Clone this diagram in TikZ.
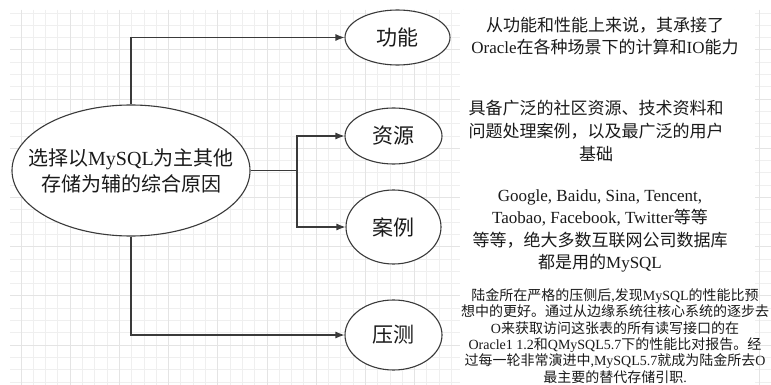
\documentclass[tikz,border=0pt]{standalone}
\usepackage{fontspec}
\setmainfont{Liberation Serif}
\newfontfamily\cjk{Noto Sans CJK SC}
\usetikzlibrary{arrows.meta,shapes.geometric}
\XeTeXinterchartokenstate=1
\newXeTeXintercharclass\CJKcls
\newcount\cjkc
\def\setcjkrange#1#2{\cjkc=#1\relax\loop\XeTeXcharclass\cjkc=\CJKcls\ifnum\cjkc<#2\advance\cjkc by 1\repeat}
\setcjkrange{"4E00}{"9FFF}
\setcjkrange{"3000}{"303F}
\setcjkrange{"FF00}{"FFEF}
\XeTeXinterchartoks 0 \CJKcls={\begingroup\cjk}
\XeTeXinterchartoks 4095 \CJKcls={\begingroup\cjk}
\XeTeXinterchartoks \CJKcls 0={\endgroup}
\XeTeXinterchartoks \CJKcls 4095={\endgroup}
\definecolor{linec}{HTML}{3A3A3A}
\definecolor{txtc}{HTML}{1A1A1A}
\definecolor{gridminor}{HTML}{EFEFEF}
\definecolor{gridmajor}{HTML}{E4E4E4}
\tikzset{
  oval/.style={ellipse, draw=linec, line width=1.1pt, fill=white, inner sep=0pt, text=txtc},
  conn/.style={draw=linec, line width=1.1pt},
  arr/.style={conn, -{Latex[length=9pt,width=7pt]}},
  desc/.style={align=center, text=txtc, inner sep=0pt},
}
\begin{document}
\begin{tikzpicture}[x=1pt,y=-1pt]
\useasboundingbox (0,0) rectangle (771,385);
\fill[white] (0,0) rectangle (771,385);
% grid
\begin{scope}
\clip (10,10) rectangle (771,385);
\foreach \i in {0,...,62} {
  \draw[gridminor, line width=0.9pt] ({8.7+12.3*\i},10) -- ({8.7+12.3*\i},385);
}
\foreach \j in {0,...,30} {
  \draw[gridminor, line width=0.9pt] (10,{13+12.3*\j}) -- (771,{13+12.3*\j});
}
\foreach \i in {0,...,15} {
  \draw[gridmajor, line width=1pt] ({21+49.2*\i},10) -- ({21+49.2*\i},385);
}
\foreach \j in {0,...,7} {
  \draw[gridmajor, line width=1pt] (10,{49.9+49.2*\j}) -- (771,{49.9+49.2*\j});
}
\end{scope}
\fill[white] (460,10) rectangle (755,385);

% main ellipse
\node[oval, minimum width=238pt, minimum height=131pt,
  label={[desc, font=\fontsize{20}{26}\selectfont]center:{选择以MySQL为主其他\\存储为辅的综合原因}}]
  (main) at (131,170.5) {};

% branch ellipses
\node[oval, minimum width=105pt, minimum height=55pt, font=\fontsize{21}{24}\selectfont] (f1) at (397.5,37.5) {功能};
\node[oval, minimum width=97pt, minimum height=56pt, font=\fontsize{21}{24}\selectfont] (f2) at (393.5,136) {资源};
\node[oval, minimum width=95pt, minimum height=74pt, font=\fontsize{21}{24}\selectfont] (f3) at (393.5,227) {案例};
\node[oval, minimum width=97pt, minimum height=70pt, font=\fontsize{21}{24}\selectfont] (f4) at (393.5,335) {压测};

% connectors
\coordinate (j) at (297,170.5);
\draw[arr] (main.north) |- (f1.west);
\draw[conn] (main.east) -- (j);
\draw[arr] (j) |- (f2.west);
\draw[arr] (j) |- (f3.west);
\draw[arr] (main.south) |- (f4.west);

% descriptions
\node[desc, font=\fontsize{17}{22}\selectfont] (t1) at (605,36)
  {从功能和性能上来说，其承接了\\Oracle在各种场景下的计算和IO能力};
\node[desc, font=\fontsize{17}{23}\selectfont] (t2) at (596,131)
  {具备广泛的社区资源、技术资料和\\问题处理案例，以及最广泛的用户\\基础};
\node[desc, font=\fontsize{17}{22.5}\selectfont] (t3) at (600,231)
  {Google, Baidu, Sina, Tencent,\\Taobao, Facebook, Twitter等等\\等等，绝大多数互联网公司数据库\\都是用的MySQL};
\node[desc, font=\fontsize{14}{16.4}\selectfont] (t4) at (615,336)
  {陆金所在严格的压侧后,发现MySQL的性能比预\\想中的更好。通过从边缘系统往核心系统的逐步去\\O来获取访问这张表的所有读写接口的在\\Oracle1 1.2和QMySQL5.7下的性能比对报告。经\\过每一轮非常演进中,MySQL5.7就成为陆金所去O\\最主要的替代存储引职.};
\end{tikzpicture}
\end{document}
